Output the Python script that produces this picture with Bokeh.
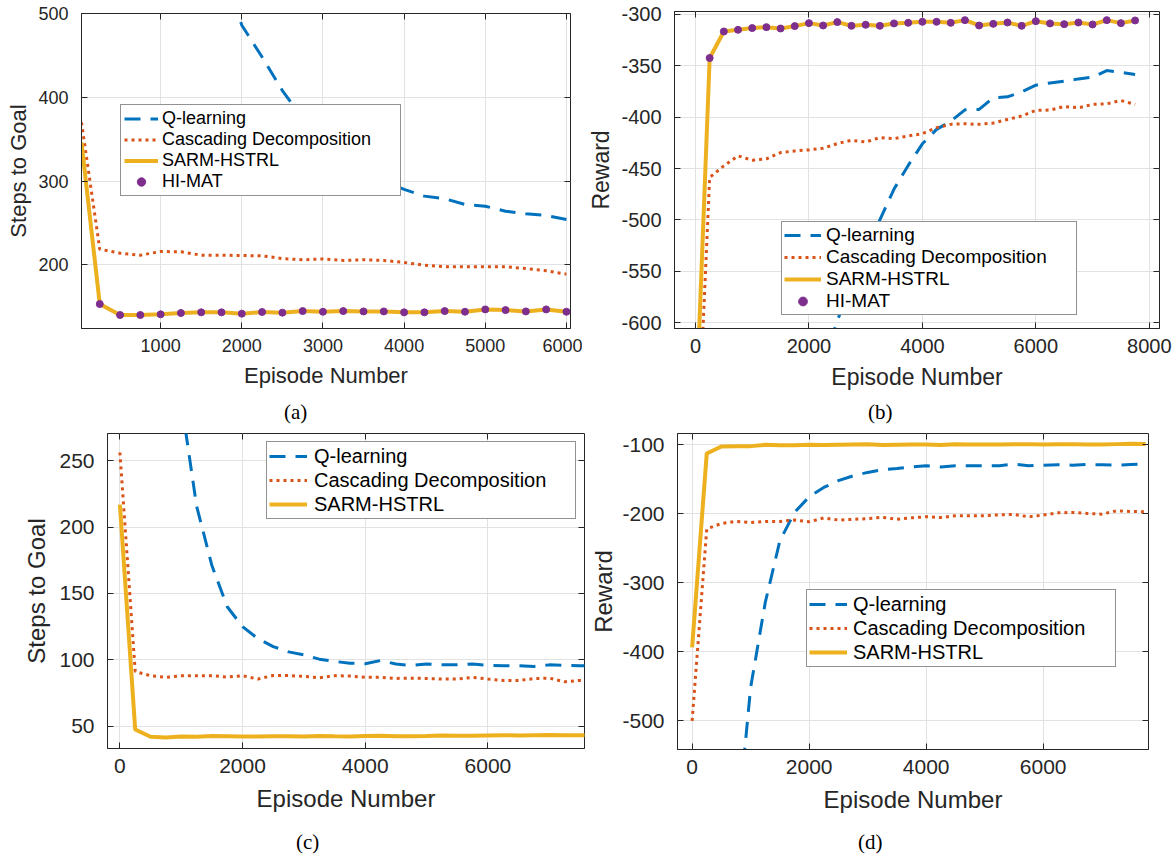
from bokeh.plotting import figure
from bokeh.models import (Range1d, LinearAxis, FixedTicker, Legend, LegendItem, Div,
                          CustomJSTickFormatter)
from bokeh.layouts import row, column
from bokeh.embed import file_html
from bokeh.resources import INLINE

BLUE, ORANGE, YELLOW, PURPLE = "#0072BD", "#D95319", "#EDB120", "#7E2F8E"
INK = "#262626"
GRID = "#e2e2e2"
SANS = "Liberation Sans"
SERIF = "Liberation Serif"

SERIES_NAMES = ["Q-learning", "Cascading Decomposition", "SARM-HSTRL", "HI-MAT"]

# ---------------- (a) Steps to Goal ----------------
a_episodes = [25, 250, 500, 750, 1000, 1250, 1500, 1750, 2000, 2250, 2500, 2750, 3000,
              3250, 3500, 3750, 4000, 4250, 4500, 4750, 5000, 5250, 5500, 5750, 6000]
a_q = [1400, 1250, 1100, 960, 840, 740, 650, 560, 486, 448, 408, 375, 350,
       330, 314, 300, 290, 282, 279, 272, 270, 264, 261, 259, 254]
a_casc = [370, 218.7, 213.9, 211.5, 215.9, 215.5, 211.5, 211.5, 211.1, 210.7, 207.5, 206.0, 207.1,
          205.2, 206.0, 205.2, 202.8, 199.6, 197.6, 197.6, 197.6, 197.6, 195.6, 192.9, 188.9]
a_sarm = [346, 153.2, 140.1, 140.1, 140.9, 142.5, 143.3, 143.3, 141.7, 143.7, 142.9, 144.8, 144.0,
          144.8, 144.4, 144.4, 143.3, 143.3, 144.8, 144.0, 146.8, 146.0, 144.4, 146.8, 144.0]
a_himat_episodes = [250, 500, 750, 1000, 1250, 1500, 1750, 2000, 2250, 2500, 2750, 3000,
                    3250, 3500, 3750, 4000, 4250, 4500, 4750, 5000, 5250, 5500, 5750, 6000]
a_himat = [153.2, 140.1, 140.1, 140.9, 142.5, 143.3, 143.3, 141.7, 143.7, 142.9, 144.8, 144.0,
           144.8, 144.4, 144.4, 143.3, 143.3, 144.8, 144.0, 146.8, 146.0, 144.4, 146.8, 144.0]
a_xticks = [1000, 2000, 3000, 4000, 5000, 6000]
a_yticks = [200, 300, 400, 500]

# ---------------- (b) Reward ----------------
b_episodes = [0, 250, 500, 750, 1000, 1250, 1500, 1750, 2000, 2250, 2500, 2750, 3000, 3250,
              3500, 3750, 4000, 4250, 4500, 4750, 5000, 5250, 5500, 5750, 6000, 6250, 6500,
              6750, 7000, 7250, 7500, 7750]
b_q = [-2000, -1700, -1450, -1250, -1080, -950, -840, -750, -690, -640, -598, -562, -530, -500,
       -470, -447, -426, -412, -404, -393, -392.6, -381.3, -380.3, -375.5, -369, -366.8, -365.2,
       -362.9, -361.3, -354.8, -356.5, -358.7]
b_casc = [-770, -458.7, -447.4, -437.7, -441.9, -440.6, -434.5, -432.9, -431.9, -430.3, -425.8,
          -422.6, -424.2, -420.0, -421.0, -418.4, -416.1, -410.3, -407.1, -406.5, -407.1, -405.8,
          -402.3, -399.0, -393.5, -393.2, -389.7, -391.0, -387.7, -387.1, -383.9, -387.7]
b_sarm = [-700, -342.6, -316.8, -315.2, -313.5, -312.6, -313.9, -311.6, -308.7, -311.0, -307.7,
          -311.3, -310.3, -311.3, -309.0, -308.4, -307.4, -307.4, -308.4, -305.8, -311.0, -309.4,
          -308.1, -311.3, -306.8, -309.0, -309.7, -308.1, -310.0, -305.8, -308.7, -306.1]
b_himat_episodes = [250, 500, 750, 1000, 1250, 1500, 1750, 2000, 2250, 2500, 2750, 3000, 3250,
                    3500, 3750, 4000, 4250, 4500, 4750, 5000, 5250, 5500, 5750, 6000, 6250, 6500,
                    6750, 7000, 7250, 7500, 7750]
b_himat = [-342.6, -316.8, -315.2, -313.5, -312.6, -313.9, -311.6, -308.7, -311.0, -307.7,
           -311.3, -310.3, -311.3, -309.0, -308.4, -307.4, -307.4, -308.4, -305.8, -311.0, -309.4,
           -308.1, -311.3, -306.8, -309.0, -309.7, -308.1, -310.0, -305.8, -308.7, -306.1]
b_xticks = [0, 2000, 4000, 6000, 8000]
b_yticks = [-600, -550, -500, -450, -400, -350, -300]

# ---------------- (c) Steps to Goal ----------------
c_episodes = [0, 250, 500, 750, 1000, 1250, 1500, 1750, 2000, 2250, 2500, 2750, 3000, 3250,
              3500, 3750, 4000, 4250, 4500, 4750, 5000, 5250, 5500, 5750, 6000, 6250, 6500,
              6750, 7000, 7250, 7500, 7750]
c_q = [800, 650, 500, 380, 295, 216, 171, 140, 125, 116, 110, 106, 103.8, 100.5, 98.8, 97.5,
       97, 99.5, 96.8, 95.8, 96.8, 96.2, 96.2, 96.8, 95.8, 95.5, 95.5, 95, 96.2, 95.8, 95.5, 95.5]
c_casc = [256.2, 91.2, 88, 86.8, 88, 88, 88, 87, 88, 85.5, 88.2, 88.2, 87.5, 86.5, 88, 87.8,
          86.8, 86.8, 86, 86.2, 86, 85.5, 85.5, 86.8, 85.5, 84.5, 84.5, 85.8, 86.2, 83.5, 84.5, 84]
c_sarm = [217, 47.5, 42, 41.5, 42.3, 42, 42.6, 42.5, 42.2, 42.2, 42.4, 42.5, 42.3, 42.6, 42.4,
          42.3, 42.6, 42.8, 42.4, 42.5, 42.7, 43, 42.8, 42.8, 43, 43.2, 43, 43.2, 43.3, 43.2,
          43.1, 43.1]
c_xticks = [0, 2000, 4000, 6000]
c_yticks = [50, 100, 150, 200, 250]

# ---------------- (d) Reward ----------------
d_episodes = c_episodes
d_q = [-1350, -1100, -880, -675, -451.7, -328.5, -239, -198, -175.4, -161.8, -152, -145, -140,
       -136.2, -134.3, -132, -130.4, -132, -130.4, -130.4, -130.4, -130.4, -128, -130.4, -129.5,
       -129, -129.5, -128.5, -129, -129.5, -128.5, -128]
d_casc = [-500, -222, -214, -211, -212.6, -211, -211, -209, -211.6, -206, -209, -208, -207,
          -205, -208, -205.8, -204.3, -205.3, -202.9, -202.9, -202.9, -201.4, -201, -204.3,
          -201.9, -198.6, -198, -199.5, -200.5, -195.7, -196.6, -197]
d_sarm = [-393.7, -112.6, -102.4, -101.9, -101.9, -100, -100.5, -100.5, -100, -100.2, -99.8,
          -99.5, -99.2, -100.3, -99.8, -99.6, -99.4, -100.4, -99.3, -99.6, -99.4, -99.6, -99.2,
          -99.0, -99.4, -99.2, -99.0, -99.6, -99.4, -99.0, -98.6, -98.8]
d_xticks = [0, 2000, 4000, 6000]
d_yticks = [-500, -400, -300, -200, -100]

PLAIN = CustomJSTickFormatter(code="return String(tick)")


def make_panel(cfg):
    p = figure(width=cfg["w"], height=cfg["h"], output_backend="svg", toolbar_location=None,
               x_range=Range1d(*cfg["xr"]), y_range=Range1d(*cfg["yr"]),
               min_border_left=cfg["bl"], min_border_right=cfg["br"],
               min_border_top=cfg["bt"], min_border_bottom=cfg["bb"],
               background_fill_color="white", border_fill_color="white")
    p.outline_line_color = INK
    p.outline_line_width = 1

    settings = ((p.xaxis, cfg["xt"], 10, "Episode Number", cfg["xls"]),
                (p.yaxis, cfg["yt"], cfg["ysd"], cfg["ylabel"], cfg["yls"]))
    for ax, ticks, st, lab, lst in settings:
        ax.ticker = FixedTicker(ticks=ticks)
        ax.formatter = PLAIN
        ax.major_tick_in = 6
        ax.major_tick_out = 0
        ax.minor_tick_line_color = None
        ax.major_tick_line_color = INK
        ax.axis_line_color = INK
        ax.major_label_text_font = SANS
        ax.major_label_text_font_size = f"{cfg['tfs']}px"
        ax.major_label_text_color = INK
        ax.major_label_standoff = st
        ax.axis_label = lab
        ax.axis_label_standoff = lst
        ax.axis_label_text_font = SANS
        ax.axis_label_text_font_style = "normal"
        ax.axis_label_text_font_size = f"{cfg['lfs']}px"
        ax.axis_label_text_color = INK
    p.xgrid.ticker = FixedTicker(ticks=cfg["xt"])
    p.ygrid.ticker = FixedTicker(ticks=cfg["yt"])
    p.xgrid.grid_line_color = GRID
    p.ygrid.grid_line_color = GRID

    # mirrored tick marks (box on)
    for loc, ticks in (("above", cfg["xt"]), ("right", cfg["yt"])):
        ax = LinearAxis(ticker=FixedTicker(ticks=ticks),
                        formatter=CustomJSTickFormatter(code="return ''"),
                        major_tick_in=6, major_tick_out=0, minor_tick_line_color=None,
                        axis_line_color=None, major_tick_line_color=INK,
                        major_label_standoff=0, major_label_text_font_size="0px")
        p.add_layout(ax, loc)

    x = cfg["x"]
    rq = p.line(x, cfg["q"], line_color=BLUE, line_width=3, line_dash="16 10")
    rc = p.line(x, cfg["casc"], line_color=ORANGE, line_width=3, line_dash="3 4")
    rs = p.line(x, cfg["sarm"], line_color=YELLOW, line_width=4)
    renderers = [rq, rc, rs]
    if cfg.get("hx") is not None:
        rh = p.scatter(cfg["hx"], cfg["hy"], marker="circle", size=7,
                       fill_color=PURPLE, line_color=PURPLE)
        renderers.append(rh)

    items = [LegendItem(label=n, renderers=[r]) for n, r in zip(SERIES_NAMES, renderers)]
    lg = cfg["lg"]
    leg = Legend(items=items, location=lg["loc"], margin=0, padding=lg["pad"], spacing=0,
                 glyph_width=lg["gw"], glyph_height=lg["rh"], label_height=lg["rh"],
                 label_width=lg["lw"], label_standoff=lg["ls"],
                 label_text_font=SANS, label_text_font_size=f"{lg['fs']}px",
                 label_text_color="black",
                 border_line_color=INK, border_line_width=1,
                 background_fill_color="white", background_fill_alpha=1.0)
    p.add_layout(leg)

    cap = Div(text=cfg["caption"], width=cfg["w"], height=cfg["ch"], margin=0,
              styles={"font-family": SERIF, "font-size": "21px", "color": "black",
                      "line-height": f"{cfg['clh']}px", "text-indent": f"{cfg['cx']}px",
                      "white-space": "nowrap"})
    return column(p, cap, spacing=0)


pa = make_panel(dict(w=582, h=400, bl=81, br=12, bt=13, bb=72,
                     xr=(25, 6050), yr=(124, 500), xt=a_xticks, yt=a_yticks,
                     tfs=18, lfs=22, ysd=13, xls=8, yls=4,
                     ylabel="Steps to Goal", caption="(a)", ch=28, clh=24, cx=284,
                     x=a_episodes, q=a_q, casc=a_casc, sarm=a_sarm,
                     hx=a_himat_episodes, hy=a_himat,
                     lg=dict(loc=(39, 132), pad=3, gw=34, rh=21, lw=235, ls=4, fs=18)))

pb = make_panel(dict(w=593, h=400, bl=92, br=16, bt=11, bb=72,
                     xr=(-370, 8180), yr=(-605.5, -297.4), xt=b_xticks, yt=b_yticks,
                     tfs=20, lfs=23, ysd=13, xls=8, yls=4,
                     ylabel="Reward", caption="(b)", ch=28, clh=24, cx=286,
                     x=b_episodes, q=b_q, casc=b_casc, sarm=b_sarm,
                     hx=b_himat_episodes, hy=b_himat,
                     lg=dict(loc=(107, 13), pad=2, gw=37, rh=22, lw=248, ls=5, fs=19)))

pc = make_panel(dict(w=586, h=400, bl=107, br=2, bt=5, bb=80,
                     xr=(-202, 7575), yr=(33.2, 270.5), xt=c_xticks, yt=c_yticks,
                     tfs=21, lfs=24, ysd=13, xls=9, yls=6,
                     ylabel="Steps to Goal", caption="(c)", ch=31, clh=28, cx=296,
                     x=c_episodes, q=c_q, casc=c_casc, sarm=c_sarm,
                     lg=dict(loc=(159, 229), pad=2, gw=38, rh=24, lw=259, ls=7, fs=20)))

pd_ = make_panel(dict(w=589, h=400, bl=91, br=27, bt=5, bb=79,
                      xr=(-250, 7800), yr=(-541.6, -83.6), xt=d_xticks, yt=d_yticks,
                      tfs=21, lfs=24, ysd=13, xls=9, yls=2,
                      ylabel="Reward", caption="(d)", ch=31, clh=28, cx=272,
                      x=d_episodes, q=d_q, casc=d_casc, sarm=d_sarm,
                      lg=dict(loc=(129, 82), pad=2, gw=38, rh=24, lw=260, ls=6, fs=20)))

layout = column(row(pa, pb, spacing=0), row(pc, pd_, spacing=0), spacing=0)
open("out.html", "w").write(file_html(layout, INLINE))
